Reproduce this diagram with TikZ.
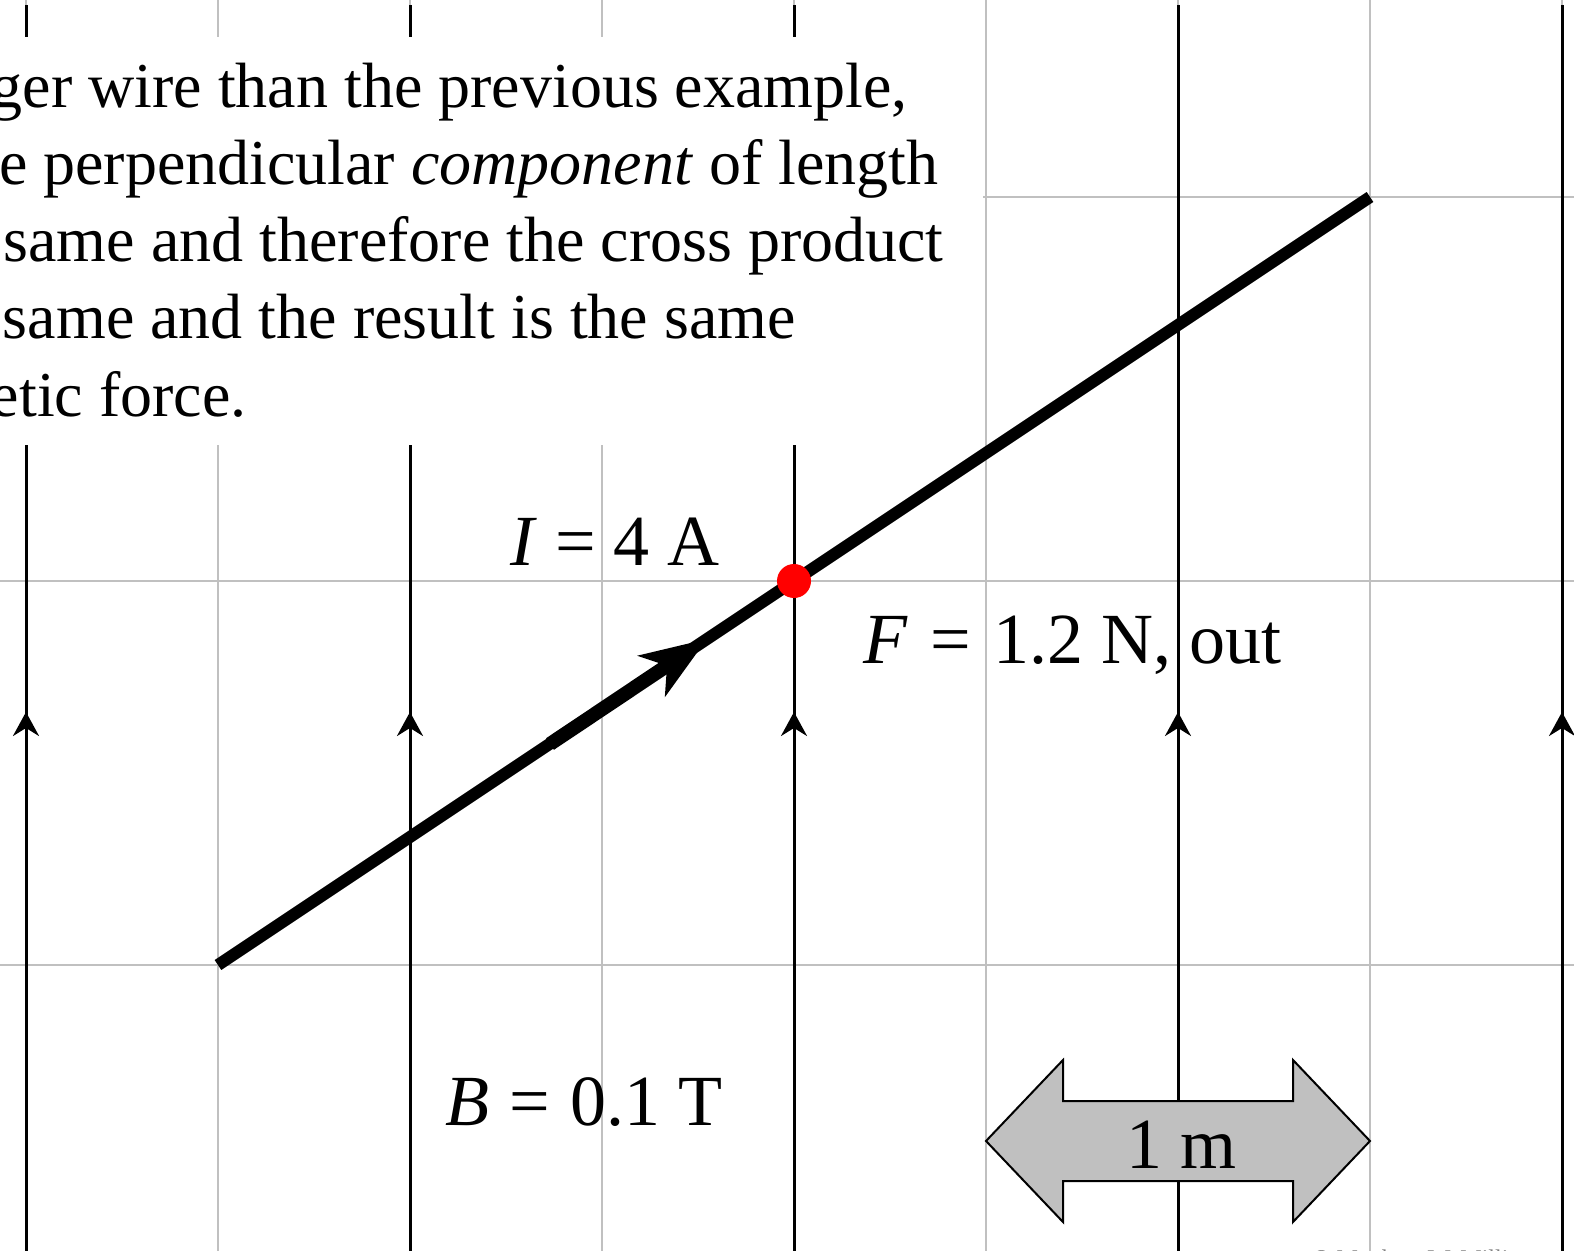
\documentclass[tikz,border=0pt]{standalone}
\usepackage{fontspec}
\setmainfont{Liberation Serif}
\usetikzlibrary{arrows.meta}
\definecolor{gridgray}{RGB}{192,192,192}
\definecolor{boxgray}{RGB}{192,192,192}
\begin{document}
\begin{tikzpicture}[x=0.5pt,y=-0.5pt,
  gridline/.style={draw=gridgray,line width=1pt},
  fieldline/.style={draw=black,line width=1.5pt},
  fieldarrow/.style={fieldline,-{Stealth[length=12pt,width=13pt,inset=4pt]}},
  wire/.style={line width=6pt},
  wirearrow/.style={line width=7pt,-{Stealth[length=33pt,width=24pt,inset=9pt]}},
  big/.style={font=\fontsize{36pt}{38.5pt}\selectfont, inner sep=0pt},
  body/.style={font=\fontsize{32pt}{38.5pt}\selectfont, inner sep=0pt, anchor=base east}]
\useasboundingbox (0,0) rectangle (1574,1251);
% grid
\foreach \x in {26,218,...,1562} \draw[gridline] (\x,0) -- (\x,1260);
\foreach \y in {197,581,965} \draw[gridline] (0,\y) -- (1580,\y);
% magnetic field lines
\foreach \x [count=\i] in {26,410,794,1178,1562} {
  \coordinate (ft\i) at (\x,5);
  \coordinate (fb\i) at (\x,1260);
  \coordinate (fa\i) at (\x,885);
  \coordinate (fh\i) at (\x,712);
  \draw[fieldline] (ft\i) -- (fb\i);
  \draw[fieldarrow] (fa\i) -- (fh\i);
}
% text box
\fill[white] (-5,37) rectangle (983,445);
\node[body] (t1) at (908,108) {longer wire than the previous example,};
\node[body] (t2) at (939,185) {the perpendicular \textit{component} of length};
\node[body] (t3) at (944,262) {is the same and therefore the cross product};
\node[body] (t4) at (796,339) {is the same and the result is the same};
\node[body] (t5) at (247,416) {magnetic force.};
% wire
\coordinate (w0) at (218,965);
\coordinate (w1) at (1370,197);
\coordinate (wa0) at (550,744);
\coordinate (wa1) at (707,639);
\draw[wire] (w0) -- (w1);
\draw[wirearrow] (wa0) -- (wa1);
\node[circle,fill=red,minimum size=17pt,inner sep=0pt] (dot) at (794,581) {};
% labels
\node[big,anchor=base west] (Ilab) at (510,565) {\textit{I}\hspace{0.25em}=\hspace{0.25em}4 A};
\node[big,anchor=base west] (Flab) at (863,663) {\textit{F}\hspace{0.31em}=\hspace{0.31em}1.2 N, out};
\node[big,anchor=base west] (Blab) at (445,1125) {\textit{B}\hspace{0.28em}=\hspace{0.28em}0.1 T};
% scale arrow
\draw[fill=boxgray, line width=1pt] (986,1141) -- (1063,1060) -- (1063,1101) -- (1293,1101) -- (1293,1060) -- (1370,1141) -- (1293,1222) -- (1293,1181) -- (1063,1181) -- (1063,1222) -- cycle;
\node[big,anchor=base] (mlab) at (1181,1168) {1 m};
\node[anchor=north west, text=gray, font=\fontsize{12pt}{14pt}\selectfont, inner sep=0pt] (copy) at (1312,1249) {© Matthew W. Milligan};
\end{tikzpicture}
\end{document}
